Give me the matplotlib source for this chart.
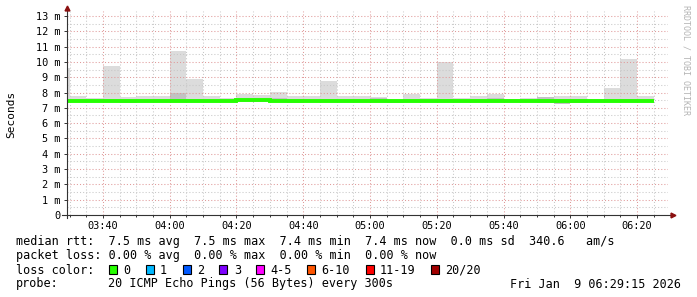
#!/usr/bin/env python3
# -*- coding: utf-8 -*-

import numpy as np
import matplotlib
matplotlib.use("Agg")
import matplotlib.pyplot as plt
from matplotlib.ticker import MultipleLocator, FuncFormatter
from matplotlib.patches import Rectangle

# 5 min bins, minutes after midnight (03:25 .. 06:20)
bin_start = np.arange(205, 385, 5)
edges = np.append(bin_start, bin_start[-1] + 5)

# smoke (ms)
smoke_max = [9.60, 7.75, 7.65, 9.72, 7.72, 7.80, 7.80, 10.70, 8.91, 7.76, 7.61, 7.93,
             7.87, 8.02, 7.76, 7.80, 8.72, 7.80, 7.80, 7.72, 7.54, 7.89, 7.65, 9.98,
             7.65, 7.76, 7.93, 7.58, 7.63, 7.74, 7.76, 7.80, 7.58, 8.32, 10.22, 7.80]
smoke_min = [7.38, 7.38, 7.38, 7.36, 7.33, 7.38, 7.38, 7.38, 7.38, 7.38, 7.40, 7.40,
             7.38, 7.36, 7.33, 7.38, 7.38, 7.38, 7.38, 7.36, 7.34, 7.38, 7.38, 7.38,
             7.38, 7.38, 7.36, 7.38, 7.38, 7.33, 7.28, 7.34, 7.38, 7.38, 7.38, 7.38]
inner_hi = [7.50, 7.50, 7.48, 7.52, 7.50, 7.50, 7.55, 7.98, 7.58, 7.50, 7.52, 7.56,
            7.56, 7.62, 7.55, 7.52, 7.55, 7.52, 7.52, 7.66, 7.50, 7.52, 7.50, 7.55,
            7.50, 7.55, 7.62, 7.50, 7.52, 7.72, 7.58, 7.60, 7.50, 7.52, 7.55, 7.50]
median = [7.46, 7.46, 7.46, 7.46, 7.46, 7.46, 7.46, 7.46, 7.46, 7.46, 7.46, 7.50,
          7.50, 7.46, 7.46, 7.46, 7.46, 7.46, 7.46, 7.46, 7.42, 7.46, 7.46, 7.46,
          7.46, 7.46, 7.46, 7.46, 7.46, 7.46, 7.46, 7.46, 7.46, 7.46, 7.46, 7.46]

# legend texts
rtt_line = "median rtt:  7.5 ms avg  7.5 ms max  7.4 ms min  7.4 ms now  0.0 ms sd  340.6   am/s"
loss_line = "packet loss: 0.00 % avg  0.00 % max  0.00 % min  0.00 % now"
loss_labels = ["0", "1", "2", "3", "4-5", "6-10", "11-19", "20/20"]
loss_colors = ["#26ff00", "#00b8ff", "#0059ff", "#7e00ff", "#ff00ff", "#ff5500", "#ff0000", "#a10000"]
probe_text = "20 ICMP Echo Pings (56 Bytes) every 300s"
stamp = "Fri Jan  9 06:29:15 2026"

W, H = 697, 297
MONO = "DejaVu Sans Mono"

def fx(px): return px / W
def fy(py): return 1 - py / H

fig = plt.figure(figsize=(W / 100, H / 100), dpi=100)
fig.patch.set_facecolor("white")

ytop = 13.3
ax = fig.add_axes([fx(67), fy(215), 601 / W, ytop * 15.31 / H])
ax.set_xlim(209.25, 389.25)
ax.set_ylim(0, ytop)

ax.stairs(smoke_max, edges, baseline=smoke_min, fill=True, color="#dcdcdc", lw=0, zorder=1)
ax.stairs(inner_hi, edges, baseline=smoke_min, fill=True, color="#c2c2c2", lw=0, zorder=1.1)
ax.stairs(median, edges, baseline=None, color="#26ff00", lw=2.8, zorder=3)

ax.xaxis.set_major_locator(MultipleLocator(20))
ax.xaxis.set_minor_locator(MultipleLocator(5))
ax.yaxis.set_major_locator(MultipleLocator(1))
ax.yaxis.set_minor_locator(MultipleLocator(0.5))
ax.grid(True, which="major", color="#e09a9a", linestyle=(0, (1, 2)), linewidth=0.75)
ax.grid(True, which="minor", color="#c8c8c8", linestyle=(0, (1, 2)), linewidth=0.75)
ax.set_axisbelow(False)

ax.xaxis.set_major_formatter(FuncFormatter(lambda v, p: "%02d:%02d" % (int(v) // 60, int(v) % 60)))
ax.yaxis.set_major_formatter(FuncFormatter(lambda v, p: "0" if v == 0 else "%d m" % int(round(v))))
ax.tick_params(which="major", length=2.5, width=0.7, color="#333333", pad=2,
               labelsize=7.4, labelfontfamily=MONO)
ax.tick_params(which="minor", length=1.5, width=0.7, color="#333333")
ax.tick_params(axis="y", which="minor", length=0)

for s in ax.spines.values():
    s.set_visible(False)
# axis lines with rrdtool style arrows
ax.plot([-0.008, 1.006], [0, 0], color="#333333", lw=0.8, transform=ax.transAxes, clip_on=False, zorder=4)
ax.plot([0, 0], [-0.015, 1.01], color="#333333", lw=0.8, transform=ax.transAxes, clip_on=False, zorder=4)
ax.plot([1.008], [0], marker=">", ms=3.5, color="#8b1010", transform=ax.transAxes, clip_on=False, zorder=5)
ax.plot([0], [1.015], marker="^", ms=3.5, color="#8b1010", transform=ax.transAxes, clip_on=False, zorder=5)

fig.text(fx(11), fy(114), "Seconds", rotation=90, ha="center", va="center",
         fontsize=8, family=MONO)
fig.text(fx(686), fy(60), "RRDTOOL / TOBI OETIKER", rotation=270, ha="center", va="center",
         fontsize=6, family=MONO, color="#b4b4b4")

# legend block
fs = 8.5
cw = 7.1
fig.text(fx(16), fy(245.5), rtt_line, fontsize=fs, family=MONO, va="baseline")
fig.text(fx(16), fy(259.5), loss_line, fontsize=fs, family=MONO, va="baseline")
fig.text(fx(16), fy(273.5), "loss color:", fontsize=fs, family=MONO, va="baseline")
x = 108.7
for lab, col in zip(loss_labels, loss_colors):
    fig.add_artist(Rectangle((fx(x), fy(274)), 8 / W, 9 / H, transform=fig.transFigure,
                             facecolor=col, edgecolor="black", lw=0.8))
    fig.text(fx(x + 14.3), fy(273.5), lab, fontsize=fs, family=MONO, va="baseline")
    x = x + 14.3 + len(lab) * cw + 15.5
fig.text(fx(16), fy(287.5), "probe:", fontsize=fs, family=MONO, va="baseline")
fig.text(fx(16 + 13 * cw), fy(287.5), probe_text, fontsize=fs, family=MONO, va="baseline")
fig.text(fx(681), fy(287.5), stamp, fontsize=fs, family=MONO, va="baseline", ha="right")

fig.savefig("out.png", dpi=100)
